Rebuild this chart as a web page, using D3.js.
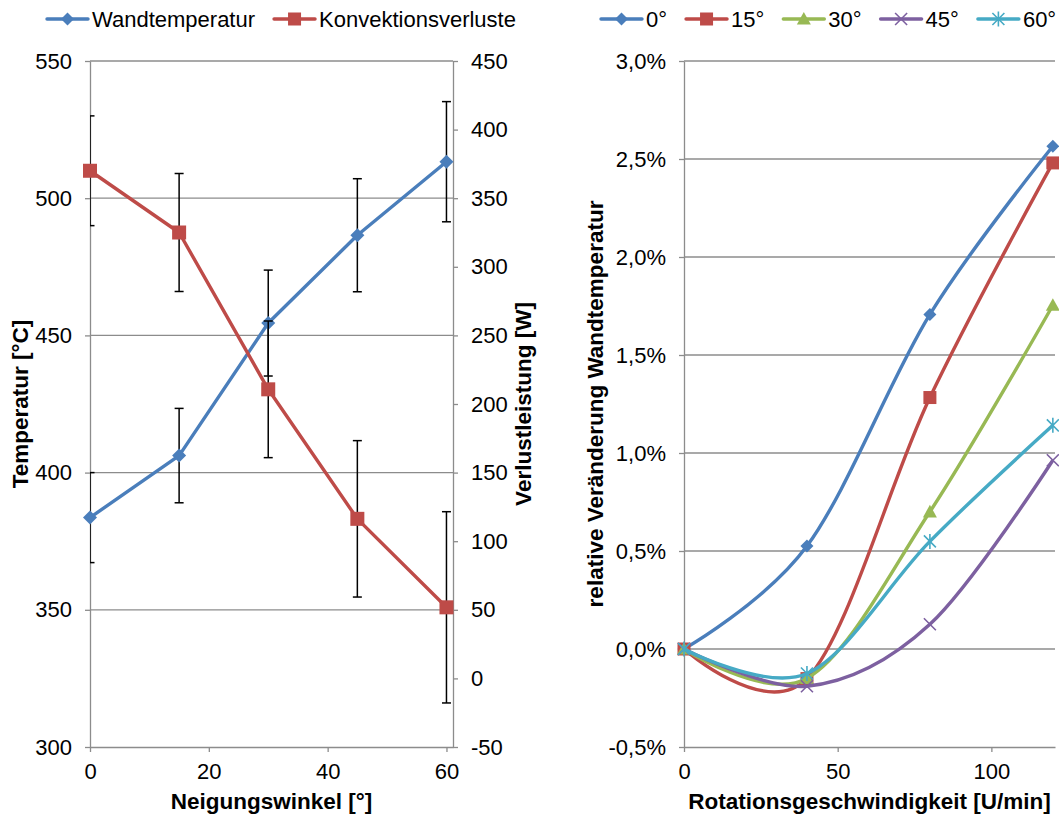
<!DOCTYPE html>
<html><head><meta charset="utf-8">
<script src="https://cdn.jsdelivr.net/npm/d3@7"></script>
<style>
html,body{margin:0;padding:0;background:#fff;}
svg{display:block;font-family:"Liberation Sans",Arial,sans-serif;}
</style></head><body>
<svg id="chart" width="1059" height="818"></svg>
<script>
// ---- Left chart: tilt angle vs. wall temperature and convection losses ----
const tiltAngles   = [0, 15, 30, 45, 60];
const wallTemp     = [383.6, 406.2, 454.5, 486.5, 513.3];
const wallTempErr  = [16.4, 17.2, 19.3, 20.6, 21.9];
const convLoss     = [370.0, 325.0, 210.7, 116.3, 51.8];
const convLossErr  = [40.0, 43.0, 49.8, 57.0, 69.7];
const tempTicks    = [300, 350, 400, 450, 500, 550];
const lossTicks    = [-50, 0, 50, 100, 150, 200, 250, 300, 350, 400, 450];
const tiltTicks    = [0, 20, 40, 60];
const leftLegend   = ["Wandtemperatur", "Konvektionsverluste"];

// ---- Right chart: rotation speed vs. relative change of wall temperature ----
const rotSpeeds    = [0, 40, 80, 120];
const angleNames   = ["0°", "15°", "30°", "45°", "60°"];
const rel0         = [0, 0.00525, 0.01707, 0.02565];
const rel15        = [0, -0.00151, 0.01283, 0.02480];
const rel30        = [0, -0.00150, 0.00700, 0.01754];
const rel45        = [0, -0.00190, 0.00126, 0.00963];
const rel60        = [0, -0.00125, 0.00549, 0.01141];
const pctTicks     = [-0.005, 0, 0.005, 0.01, 0.015, 0.02, 0.025, 0.03];
const speedTicks   = [0, 50, 100];

const COLORS = {blue:"#4A7EBB", red:"#BE4B48", green:"#98B954", purple:"#7D60A0", cyan:"#46AAC5"};
const GRID = "#8C8C8C";
const FONT = 22, TITLE_FONT = 22.5;

const deLocale = d3.formatLocale({decimal:",", thousands:".", grouping:[3], currency:["","€"], minus:"-", percent:"%"});
const pctFmt = deLocale.format(".1%");
const intFmt = deLocale.format("d");

const svg = d3.select("#chart");

// marker painter
function marker(g, type, color, s) {
  if (type === "diamond") {
    g.append("path").attr("d", `M0,${-s}L${s},0L0,${s}L${-s},0Z`).attr("fill", color);
  } else if (type === "square") {
    g.append("rect").attr("x", -s).attr("y", -s).attr("width", 2*s).attr("height", 2*s).attr("fill", color);
  } else if (type === "triangle") {
    g.append("path").attr("d", `M0,${-s}L${s},${s*0.8}L${-s},${s*0.8}Z`).attr("fill", color);
  } else if (type === "x") {
    g.append("path").attr("d", `M${-s},${-s}L${s},${s}M${-s},${s}L${s},${-s}`)
      .attr("stroke", color).attr("stroke-width", 1.6).attr("fill", "none");
  } else if (type === "star") {
    g.append("path").attr("d", `M${-s},${-s}L${s},${s}M${-s},${s}L${s},${-s}M0,${-s*1.25}L0,${s*1.25}`)
      .attr("stroke", color).attr("stroke-width", 1.6).attr("fill", "none");
  }
}

function styleAxis(g) {
  g.selectAll(".domain").attr("stroke", GRID).attr("stroke-width", 1.3);
  g.selectAll(".tick line").attr("stroke", GRID).attr("stroke-width", 1.3);
  g.selectAll(".tick text").attr("fill", "#000").style("font-size", FONT + "px")
    .style("font-family", '"Liberation Sans",Arial,sans-serif');
}

function legend(items, x0, y) {
  const lg = svg.append("g");
  let x = x0;
  items.forEach(it => {
    const g = lg.append("g");
    g.append("line").attr("x1", x).attr("x2", x + 41).attr("y1", y).attr("y2", y)
      .attr("stroke", it.color).attr("stroke-width", 3.4).attr("stroke-linecap", "round");
    marker(g.append("g").attr("transform", `translate(${x + 20.5},${y})`), it.type, it.color, it.size);
    const t = g.append("text").attr("x", x + 45).attr("y", y + 8).style("font-size", FONT + "px").text(it.name);
    x = x + 45 + t.node().getComputedTextLength() + 19;
  });
}

// =================== LEFT CHART ===================
{
  const x = d3.scaleLinear().domain([0, 61.1]).range([90, 453]);
  const yT = d3.scaleLinear().domain([300, 550]).range([747, 61]);
  const yL = d3.scaleLinear().domain([-50, 450]).range([747, 61]);

  const g = svg.append("g");
  svg.append("clipPath").attr("id", "clipL").append("rect")
    .attr("x", 90).attr("y", 40).attr("width", 363).attr("height", 720);

  // horizontal gridlines
  g.append("g").selectAll("line").data(tempTicks.filter(d => d > 300)).join("line")
    .attr("x1", x.range()[0]).attr("x2", x.range()[1])
    .attr("y1", d => yT(d)).attr("y2", d => yT(d))
    .attr("stroke", GRID).attr("stroke-width", 1.3);

  g.append("g").attr("transform", "translate(0,747)")
    .call(d3.axisBottom(x).tickValues(tiltTicks).tickSize(5).tickPadding(11).tickSizeOuter(0).tickFormat(intFmt))
    .call(styleAxis);
  g.append("g").attr("transform", "translate(90,0)")
    .call(d3.axisLeft(yT).tickValues(tempTicks).tickSize(5).tickPadding(13).tickSizeOuter(0).tickFormat(intFmt))
    .call(styleAxis);
  g.append("g").attr("transform", "translate(453,0)")
    .call(d3.axisRight(yL).tickValues(lossTicks).tickSize(5).tickPadding(13).tickSizeOuter(0).tickFormat(intFmt))
    .call(styleAxis);

  const series = [
    {vals: wallTemp, err: wallTempErr, y: yT, color: COLORS.blue, type: "diamond", size: 7},
    {vals: convLoss, err: convLossErr, y: yL, color: COLORS.red, type: "square", size: 7}
  ];
  series.forEach(s => {
    const pts = tiltAngles.map((a, i) => ({a, v: s.vals[i], e: s.err[i]}));
    // error bars
    const eb = g.append("g").attr("clip-path", "url(#clipL)").attr("stroke", "#000").attr("stroke-width", 1.5);
    pts.forEach(p => {
      const cx = x(p.a), t = s.y(p.v + p.e), b = s.y(p.v - p.e);
      eb.append("line").attr("x1", cx).attr("x2", cx).attr("y1", t).attr("y2", b);
      eb.append("line").attr("x1", cx - 4.5).attr("x2", cx + 4.5).attr("y1", t).attr("y2", t);
      eb.append("line").attr("x1", cx - 4.5).attr("x2", cx + 4.5).attr("y1", b).attr("y2", b);
    });
    g.append("path").datum(pts)
      .attr("d", d3.line().x(p => x(p.a)).y(p => s.y(p.v)))
      .attr("fill", "none").attr("stroke", s.color).attr("stroke-width", 3.4).attr("stroke-linejoin", "round");
    pts.forEach(p => marker(g.append("g").attr("transform", `translate(${x(p.a)},${s.y(p.v)})`), s.type, s.color, s.size));
  });

  // axis titles
  svg.append("text").attr("x", 271.5).attr("y", 809).attr("text-anchor", "middle")
    .style("font-size", TITLE_FONT + "px").style("font-weight", "bold").text("Neigungswinkel [°]");
  svg.append("text").attr("transform", "translate(28,404) rotate(-90)").attr("text-anchor", "middle")
    .style("font-size", TITLE_FONT + "px").style("font-weight", "bold").text("Temperatur [°C]");
  svg.append("text").attr("transform", "translate(531,404) rotate(-90)").attr("text-anchor", "middle")
    .style("font-size", TITLE_FONT + "px").style("font-weight", "bold").text("Verlustleistung [W]");

  legend([
    {name: leftLegend[0], color: COLORS.blue, type: "diamond", size: 6.5},
    {name: leftLegend[1], color: COLORS.red, type: "square", size: 6.5}
  ], 47, 19);
}

// =================== RIGHT CHART ===================
{
  const x = d3.scaleLinear().domain([0, 120.7]).range([684, 1055]);
  const y = d3.scaleLinear().domain([-0.005, 0.03]).range([747, 61]);
  const g = svg.append("g");

  g.append("g").selectAll("line").data(pctTicks.filter(d => d > -0.005)).join("line")
    .attr("x1", x.range()[0]).attr("x2", x.range()[1])
    .attr("y1", d => y(d)).attr("y2", d => y(d))
    .attr("stroke", GRID).attr("stroke-width", 1.3);

  g.append("g").attr("transform", "translate(0,747)")
    .call(d3.axisBottom(x).tickValues(speedTicks).tickSize(5).tickPadding(11).tickSizeOuter(0).tickFormat(intFmt))
    .call(styleAxis);
  g.append("g").attr("transform", "translate(684,0)")
    .call(d3.axisLeft(y).tickValues(pctTicks).tickSize(5).tickPadding(13).tickSizeOuter(0).tickFormat(pctFmt))
    .call(styleAxis);

  const series = [
    {name: angleNames[0], vals: rel0, color: COLORS.blue, type: "diamond", size: 6.5},
    {name: angleNames[1], vals: rel15, color: COLORS.red, type: "square", size: 6.5},
    {name: angleNames[2], vals: rel30, color: COLORS.green, type: "triangle", size: 7},
    {name: angleNames[3], vals: rel45, color: COLORS.purple, type: "x", size: 6},
    {name: angleNames[4], vals: rel60, color: COLORS.cyan, type: "star", size: 6}
  ];
  const line = d3.line().curve(d3.curveCardinal.tension(0)).x(p => x(p.s)).y(p => y(p.v));
  series.forEach(s => {
    const pts = rotSpeeds.map((sp, i) => ({s: sp, v: s.vals[i]}));
    g.append("path").datum(pts).attr("d", line)
      .attr("fill", "none").attr("stroke", s.color).attr("stroke-width", 3.4).attr("stroke-linejoin", "round");
    pts.forEach(p => marker(g.append("g").attr("transform", `translate(${x(p.s)},${y(p.v)})`), s.type, s.color, s.size));
  });

  svg.append("text").attr("x", 869.5).attr("y", 809).attr("text-anchor", "middle")
    .style("font-size", TITLE_FONT + "px").style("font-weight", "bold").text("Rotationsgeschwindigkeit [U/min]");
  svg.append("text").attr("transform", "translate(603,404) rotate(-90)").attr("text-anchor", "middle")
    .style("font-size", TITLE_FONT + "px").style("font-weight", "bold").text("relative Veränderung Wandtemperatur");

  legend(series.map(s => ({name: s.name, color: s.color, type: s.type, size: s.size})), 601, 19);
}
</script>
</body></html>
